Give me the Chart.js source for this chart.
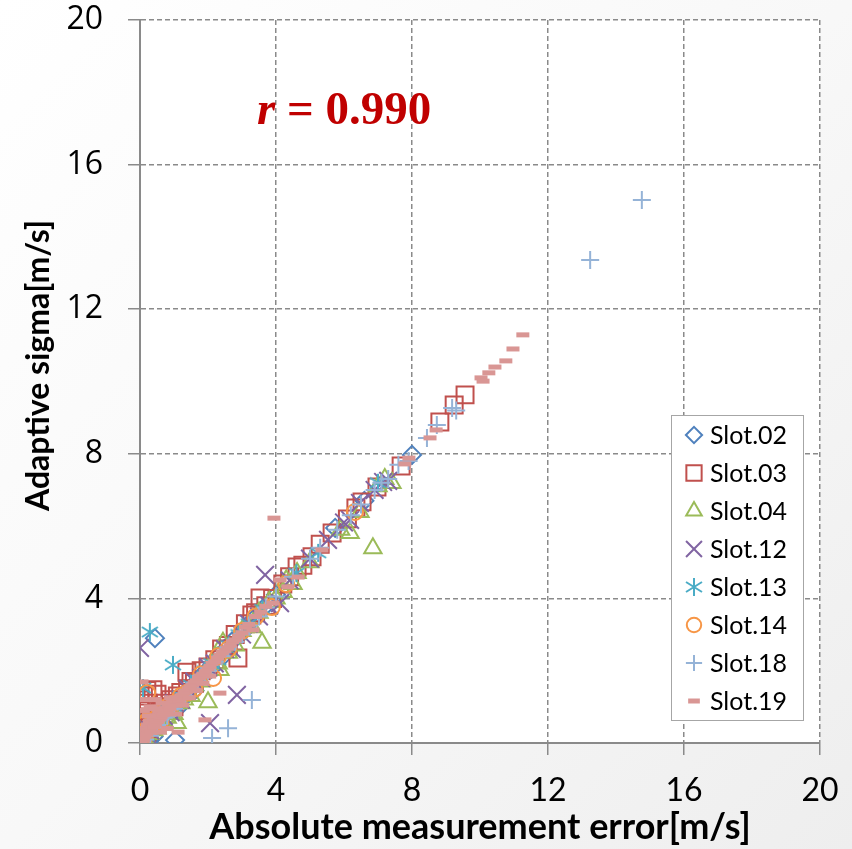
<!DOCTYPE html>
<html>
<head>
<meta charset="utf-8">
<script src="https://cdn.jsdelivr.net/npm/chart.js@4.4.0/dist/chart.umd.min.js"></script>
<style>
  html, body { margin: 0; padding: 0; }
  body {
    width: 852px; height: 849px; overflow: hidden;
    background: linear-gradient(135deg, #ffffff 0%, #f8f8f8 50%, #eeeeee 100%);
  }
</style>
</head>
<body>
<canvas id="myChart" width="852" height="849"></canvas>
<script>
// setup
const seriesNames = ['Slot.02', 'Slot.03', 'Slot.04', 'Slot.12', 'Slot.13', 'Slot.14', 'Slot.18', 'Slot.19'];
const xTicks = [0, 4, 8, 12, 16, 20];
const yTicks = [0, 4, 8, 12, 16, 20];
const corrText = '0.990';
const yTitle = 'Adaptive sigma[m/s]';

// [absolute error, adaptive sigma]
const slot02 = [
  [0.05, 0.1], [0.1, 0.25], [0.15, 0.12], [0.2, 0.35], [0.25, 0.05], [0.3, 0.3], [0.35, 0.5],
  [0.4, 0.18], [0.45, 0.4], [0.5, 0.6], [0.6, 0.55], [0.7, 0.75], [0.8, 0.85], [0.9, 0.8],
  [1.0, 1.05], [1.03, 0.08], [1.1, 0.95], [1.2, 1.25], [1.35, 1.3], [1.5, 1.55], [1.6, 1.45],
  [1.75, 1.8], [1.9, 1.95], [2.1, 2.05], [2.3, 2.4], [2.5, 2.45], [2.7, 2.8], [3.0, 3.05],
  [3.3, 3.4], [3.6, 3.7], [4.0, 4.1], [0.44, 2.9], [5.74, 5.95], [6.6, 6.7], [8.0, 7.97]
];
const slot03 = [
  [0.0, 1.19], [0.05, 0.2], [0.1, 0.5], [0.1, 1.3], [0.15, 0.9], [0.2, 0.3], [0.2, 1.45],
  [0.25, 1.1], [0.3, 0.7], [0.38, 1.47], [0.45, 0.8], [0.5, 1.0], [0.5, 1.35], [0.6, 0.7],
  [0.7, 1.1], [0.8, 0.9], [0.9, 1.2], [1.0, 1.0], [1.1, 1.3], [1.2, 1.4], [1.38, 1.96],
  [1.4, 1.5], [1.5, 1.7], [1.6, 1.65], [1.8, 2.0], [2.0, 2.1], [2.2, 2.3], [2.4, 2.6],
  [2.6, 2.7], [2.8, 3.0], [2.88, 2.35], [3.1, 3.3], [3.29, 3.54], [3.4, 3.6], [3.53, 4.01],
  [3.7, 3.8], [3.9, 4.0], [4.2, 4.4], [4.4, 4.6], [4.62, 4.87], [4.79, 4.92], [5.06, 5.15],
  [5.3, 5.5], [5.65, 5.81], [6.1, 6.2], [6.35, 6.5], [6.53, 6.67], [6.97, 7.08], [7.68, 7.66],
  [8.82, 8.88], [9.24, 9.35], [9.56, 9.63]
];
const slot04 = [
  [0.05, 0.05], [0.1, 0.15], [0.2, 0.1], [0.3, 0.25], [0.4, 0.35], [0.5, 0.4], [0.6, 0.5],
  [0.7, 0.6], [0.8, 0.7], [0.9, 0.95], [1.0, 0.8], [1.09, 0.55], [1.2, 1.1], [1.3, 1.2],
  [1.5, 1.3], [1.6, 1.6], [1.8, 1.7], [2.0, 1.13], [2.1, 2.2], [2.3, 2.2], [2.35, 2.02],
  [2.44, 2.77], [2.6, 2.5], [2.8, 2.7], [3.0, 3.1], [3.3, 3.2], [3.5, 3.6], [3.59, 2.77],
  [3.8, 3.9], [4.0, 4.0], [4.21, 4.18], [4.3, 4.5], [4.5, 4.4], [4.62, 4.7], [5.0, 5.0],
  [5.9, 5.9], [6.18, 5.81], [6.47, 6.39], [6.85, 5.39], [7.0, 7.1], [7.2, 7.3], [7.41, 7.19]
];
const slot12 = [
  [0.0, 2.63], [0.1, 0.1], [0.2, 0.25], [0.3, 0.35], [0.5, 0.55], [0.7, 0.75], [0.9, 0.85],
  [1.0, 1.1], [1.2, 1.2], [1.4, 1.5], [1.6, 1.7], [1.8, 1.8], [2.0, 2.1], [2.06, 0.55],
  [2.2, 2.2], [2.5, 2.6], [2.7, 2.6], [2.85, 1.33], [3.0, 3.0], [3.2, 3.3], [3.5, 3.5],
  [3.68, 4.65], [3.8, 3.8], [4.12, 3.87], [4.4, 4.5], [5.0, 5.1], [5.53, 5.62], [6.0, 6.1],
  [6.18, 6.17], [6.47, 6.64], [6.9, 7.0], [7.15, 7.22], [7.3, 7.25]
];
const slot13 = [
  [0.09, 1.52], [0.1, 0.3], [0.2, 0.2], [0.29, 3.07], [0.4, 0.6], [0.6, 0.8], [0.8, 0.9],
  [0.97, 2.16], [1.0, 1.0], [1.2, 1.3], [1.5, 1.6], [1.7, 1.75], [1.9, 2.0], [2.1, 2.2],
  [2.3, 2.3], [2.6, 2.7], [2.9, 3.0], [3.2, 3.3], [3.6, 3.7], [4.6, 4.7], [5.24, 5.26],
  [7.0, 7.2]
];
const slot14 = [
  [0.0, 0.1], [0.05, 0.3], [0.1, 0.5], [0.15, 0.2], [0.2, 0.6], [0.21, 1.38], [0.3, 0.4],
  [0.35, 0.8], [0.4, 0.5], [0.5, 0.7], [0.6, 0.6], [0.7, 0.9], [0.8, 1.0], [1.0, 1.1],
  [1.2, 1.3], [1.4, 1.4], [1.6, 1.5], [1.8, 1.9], [2.15, 1.8], [2.3, 2.4], [2.6, 2.6],
  [3.0, 3.1], [3.4, 3.5], [3.88, 3.76], [4.3, 4.4], [6.32, 6.39]
];
const slot18 = [
  [0.05, 0.05], [0.1, 0.2], [0.15, 0.1], [0.2, 0.3], [0.3, 0.2], [0.4, 0.45], [0.5, 0.5],
  [0.6, 0.65], [0.7, 0.7], [0.8, 0.75], [0.9, 1.0], [1.0, 0.95], [1.1, 1.15], [1.2, 1.25],
  [1.3, 1.3], [1.4, 1.45], [1.5, 1.5], [1.6, 1.65], [1.7, 1.7], [1.8, 1.85], [1.9, 1.9],
  [2.0, 2.0], [2.12, 0.14], [2.2, 2.25], [2.4, 2.4], [2.59, 0.41], [2.6, 2.65], [2.8, 2.8],
  [3.0, 3.0], [3.2, 3.25], [3.29, 1.19], [3.5, 3.5], [3.7, 3.75], [4.0, 4.05], [4.5, 4.6],
  [5.0, 5.1], [5.3, 5.4], [5.8, 5.9], [6.2, 6.3], [6.5, 6.6], [6.9, 7.0], [7.1, 7.2],
  [7.3, 7.3], [7.6, 7.7], [7.9, 7.8], [8.44, 8.44], [8.73, 8.8], [9.18, 9.27], [9.3, 9.2],
  [13.24, 13.36], [14.76, 15.02]
];
const slot19 = [
  [0.02, 0.05], [0.05, 0.12], [0.08, 0.2], [0.1, 0.08], [0.1, 0.9], [0.12, 0.3], [0.15, 0.18],
  [0.15, 1.2], [0.18, 0.4], [0.2, 0.25], [0.22, 0.5], [0.25, 0.35], [0.28, 0.6], [0.3, 0.42],
  [0.3, 1.0], [0.33, 0.3], [0.35, 0.55], [0.38, 0.7], [0.4, 0.45], [0.43, 0.62], [0.45, 1.2],
  [0.46, 0.52], [0.5, 0.75], [0.52, 0.6], [0.55, 0.85], [0.58, 0.66], [0.6, 0.3], [0.62, 0.72],
  [0.65, 0.9], [0.68, 0.78], [0.72, 0.82], [0.75, 0.95], [0.8, 0.4], [0.8, 0.88], [0.84, 1.0],
  [0.88, 0.95], [0.92, 1.05], [0.96, 1.12], [1.0, 1.05], [1.05, 1.15], [1.1, 1.2], [1.12, 0.3],
  [1.15, 1.18], [1.2, 1.3], [1.26, 1.32], [1.3, 1.4], [1.36, 1.42], [1.42, 1.5], [1.48, 1.55],
  [1.55, 1.6], [1.6, 1.68], [1.66, 1.72], [1.72, 1.8], [1.78, 1.85], [1.85, 1.9], [1.91, 0.64],
  [1.92, 1.98], [2.0, 2.05], [2.06, 2.12], [2.12, 2.2], [2.2, 2.25], [2.28, 2.35], [2.35, 1.38],
  [2.35, 2.42], [2.42, 2.5], [2.5, 2.55], [2.58, 2.62], [2.65, 2.7], [2.72, 2.8], [2.8, 2.85],
  [2.9, 2.95], [3.0, 3.05], [3.1, 3.2], [3.2, 3.28], [3.32, 3.13], [3.4, 3.5], [3.55, 3.62],
  [3.7, 3.78], [3.91, 3.87], [3.94, 6.22], [4.12, 4.51], [4.35, 4.32], [4.65, 4.59], [5.35, 5.34],
  [7.79, 7.72], [7.91, 7.88], [8.53, 8.44], [8.71, 8.66], [10.03, 10.1], [10.09, 10.01],
  [10.26, 10.24], [10.44, 10.4], [10.76, 10.57], [10.97, 10.9], [11.26, 11.29], [0.06, 1.69],
  [0.25, 0.75], [0.45, 0.95], [0.65, 1.1], [0.9, 1.25], [1.05, 0.8], [1.25, 1.05], [1.45, 1.25],
  [1.65, 1.45], [1.85, 1.65], [2.05, 1.85]
];
const seriesData = [slot02, slot03, slot04, slot12, slot13, slot14, slot18, slot19];

// asterisk marker (vertical bar + two diagonals)
function makeAsterisk(color) {
  const c = document.createElement('canvas');
  c.width = 20; c.height = 20;
  const g = c.getContext('2d');
  g.strokeStyle = color;
  g.lineWidth = 2;
  g.beginPath();
  g.moveTo(10, 1); g.lineTo(10, 19);
  g.moveTo(2, 5); g.lineTo(18, 15);
  g.moveTo(2, 15); g.lineTo(18, 5);
  g.stroke();
  return c;
}

const markers = [
  { color: '#4F81BD', style: 'rectRot', radius: 9, width: 2 },
  { color: '#C0504D', style: 'rect', radius: 12, width: 2 },
  { color: '#9BBB59', style: 'triangle', radius: 10, width: 2 },
  { color: '#8064A2', style: 'crossRot', radius: 12.5, width: 2 },
  { color: '#4BACC6', style: makeAsterisk('#4BACC6'), radius: 10, width: 2 },
  { color: '#F79646', style: 'circle', radius: 8, width: 2 },
  { color: '#95B3D7', style: 'cross', radius: 9, width: 2 },
  { color: '#D99694', style: 'line', radius: 6.5, width: 5 }
];

const data = {
  datasets: seriesNames.map((name, i) => ({
    label: name,
    data: seriesData[i].map(p => ({ x: p[0], y: p[1] })),
    pointStyle: markers[i].style,
    pointRadius: markers[i].radius,
    pointHoverRadius: markers[i].radius,
    pointBorderWidth: markers[i].width,
    borderColor: markers[i].color,
    backgroundColor: 'rgba(0,0,0,0)',
    order: seriesNames.length - i
  }))
};

// white plot area, y title, r label and boxed legend
const extras = {
  id: 'extras',
  beforeDraw(chart) {
    const { ctx, chartArea: a } = chart;
    ctx.save();
    ctx.fillStyle = '#ffffff';
    ctx.fillRect(a.left, a.top, a.right - a.left, a.bottom - a.top);
    ctx.restore();
  },
  afterDraw(chart) {
    const { ctx, chartArea: a } = chart;
    ctx.save();

    // y axis title
    ctx.save();
    ctx.translate(39, (a.top + a.bottom) / 2 - 16);
    ctx.rotate(-Math.PI / 2);
    ctx.fillStyle = '#000';
    ctx.font = 'bold 32px Lato';
    ctx.textAlign = 'center';
    ctx.textBaseline = 'middle';
    ctx.fillText(yTitle, 0, 0);
    ctx.restore();

    // r = 0.990
    ctx.fillStyle = '#C00000';
    ctx.textBaseline = 'alphabetic';
    ctx.textAlign = 'left';
    let tx = a.left + 117, ty = a.top + 104;
    ctx.font = 'italic bold 47px "Liberation Serif"';
    ctx.fillText('r', tx, ty);
    tx += ctx.measureText('r').width;
    ctx.font = 'bold 47px "Liberation Serif"';
    ctx.fillText(' = ' + corrText, tx, ty);

    // legend
    const bx = a.right - 149, by = a.bottom - 328, bw = 132, bh = 305;
    ctx.fillStyle = '#ffffff';
    ctx.fillRect(bx, by, bw, bh);
    ctx.strokeStyle = '#a6a6a6';
    ctx.lineWidth = 1;
    ctx.strokeRect(bx + 0.5, by + 0.5, bw, bh);
    ctx.font = '25px Lato';
    ctx.textBaseline = 'middle';
    seriesNames.forEach((name, i) => {
      const cy = by + 20 + i * 38;
      const m = markers[i];
      ctx.save();
      ctx.strokeStyle = m.color;
      ctx.fillStyle = 'rgba(0,0,0,0)';
      ctx.lineWidth = m.width;
      Chart.helpers.drawPoint(ctx, { pointStyle: m.style, radius: m.radius * 0.9, rotation: 0, borderWidth: m.width }, bx + 23, cy);
      ctx.restore();
      ctx.fillStyle = '#000000';
      ctx.fillText(name, bx + 39, cy + 1);
    });
    ctx.restore();
  }
};

// config
const config = {
  type: 'scatter',
  data: data,
  plugins: [extras],
  options: {
    responsive: false,
    animation: false,
    events: [],
    devicePixelRatio: 1,
    layout: { padding: { top: 20, right: 32, left: 0, bottom: 0 } },
    plugins: {
      legend: { display: false },
      tooltip: { enabled: false }
    },
    scales: {
      x: {
        type: 'linear',
        min: xTicks[0],
        max: xTicks[xTicks.length - 1],
        afterBuildTicks: s => { s.ticks = xTicks.map(v => ({ value: v })); },
        afterFit: s => { s.height = 106; s.paddingLeft = 0; s.paddingRight = 0; },
        ticks: { color: '#000', font: { family: 'Lato', size: 32 }, padding: 16, maxRotation: 0 },
        grid: { color: '#8a8a8a', lineWidth: 1.5, tickLength: 12, tickColor: '#8a8a8a', tickBorderDash: [] },
        border: { display: true, color: '#8a8a8a', width: 2, dash: [5, 3] },
        title: {
          display: true,
          text: 'Absolute measurement error[m/s]',
          color: '#000',
          font: { family: 'Lato', size: 36, weight: 'bold' },
          padding: { top: 0, bottom: 0 }
        }
      },
      y: {
        type: 'linear',
        min: yTicks[0],
        max: yTicks[yTicks.length - 1],
        afterBuildTicks: s => { s.ticks = yTicks.map(v => ({ value: v })); },
        afterFit: s => { s.width = 140; s.paddingTop = 0; s.paddingBottom = 0; },
        ticks: { color: '#000', font: { family: 'Open Sans', size: 32 }, padding: 25 },
        grid: { color: '#8a8a8a', lineWidth: 1.5, tickLength: 12, tickColor: '#8a8a8a', tickBorderDash: [] },
        border: { display: true, color: '#8a8a8a', width: 2, dash: [5, 3] }
      }
    }
  }
};

// render init block
const myChart = new Chart(document.getElementById('myChart'), config);
</script>
</body>
</html>
